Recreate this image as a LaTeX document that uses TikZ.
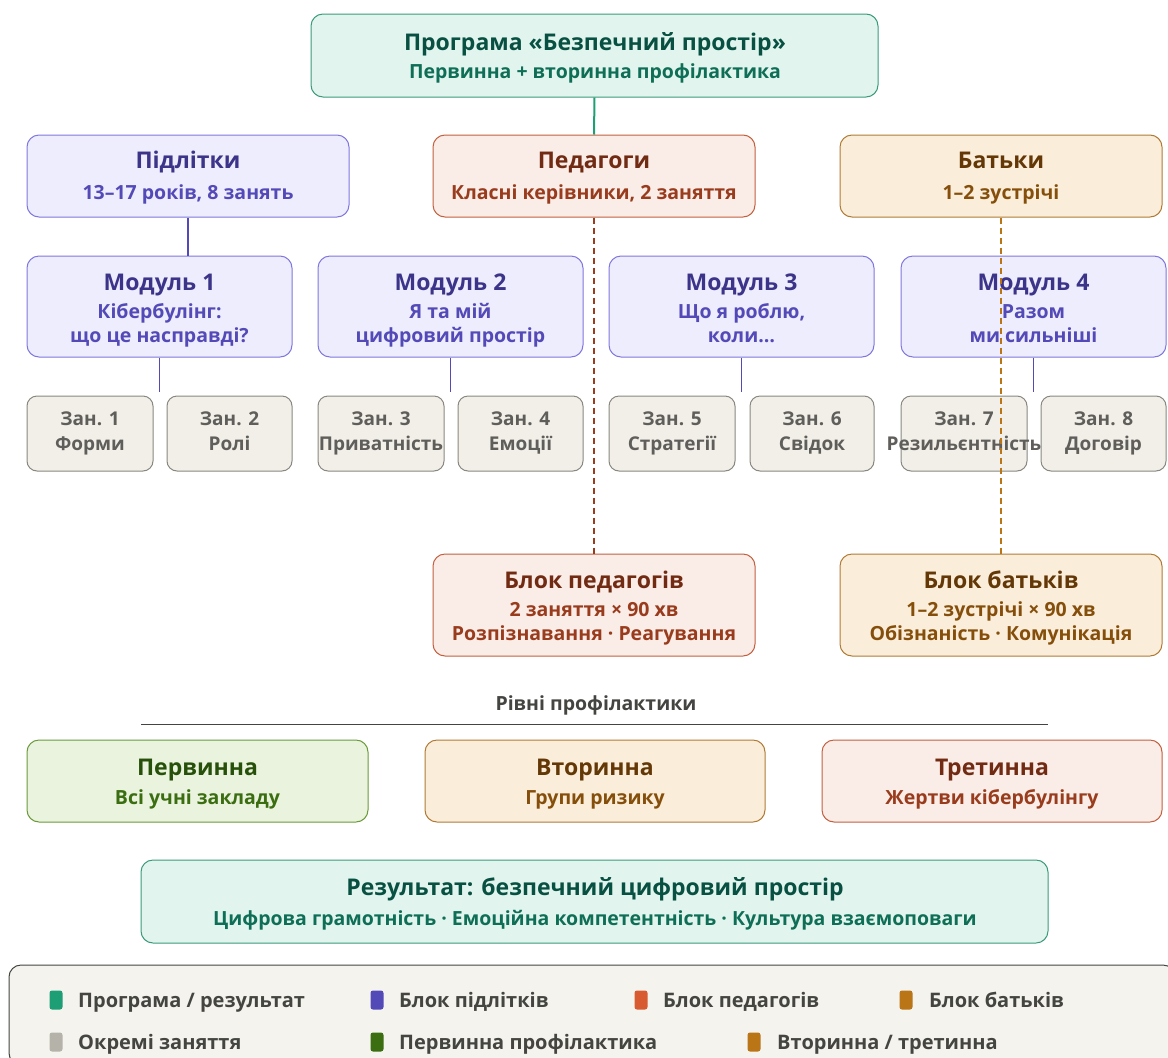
\documentclass[tikz,border=0pt]{standalone}
\usepackage{fontspec}
\setmainfont{Open Sans}
\definecolor{tealF}{HTML}{E1F5EE}\definecolor{tealD}{HTML}{3A9A7A}\definecolor{tealT}{HTML}{085041}\definecolor{tealS}{HTML}{0F6E56}\definecolor{tealL}{HTML}{1D9E75}
\definecolor{purF}{HTML}{EEEDFE}\definecolor{purD}{HTML}{7F77DD}\definecolor{purT}{HTML}{3C3489}\definecolor{purS}{HTML}{534AB7}
\definecolor{corF}{HTML}{FAECE7}\definecolor{corD}{HTML}{C2603F}\definecolor{corT}{HTML}{712B13}\definecolor{corS}{HTML}{993C1D}\definecolor{corL}{HTML}{D85A30}
\definecolor{ambF}{HTML}{FAEEDA}\definecolor{ambD}{HTML}{B07A35}\definecolor{ambT}{HTML}{633806}\definecolor{ambS}{HTML}{854F0B}\definecolor{ambL}{HTML}{BA7517}
\definecolor{grF}{HTML}{F1EFE8}\definecolor{grD}{HTML}{888780}\definecolor{grT}{HTML}{5F5E5A}\definecolor{grL}{HTML}{B4B2A9}
\definecolor{gnF}{HTML}{EAF3DE}\definecolor{gnD}{HTML}{6A9A3A}\definecolor{gnT}{HTML}{27500A}\definecolor{gnS}{HTML}{3B6D11}
\definecolor{legF}{HTML}{F4F3EE}\definecolor{legD}{HTML}{444441}
\begin{document}
\begin{tikzpicture}[x=1pt,y=-1pt,
  bx/.style={draw, line width=1pt, rounded corners=12pt, inner sep=0pt},
  tb/.style={bx, fill=tealF, draw=tealD},
  pb/.style={bx, fill=purF, draw=purD},
  cb/.style={bx, fill=corF, draw=corD},
  ab/.style={bx, fill=ambF, draw=ambD},
  gb/.style={bx, fill=grF, draw=grD, rounded corners=10pt},
  nb/.style={bx, fill=gnF, draw=gnD},
  ttl/.style={font=\bfseries\fontsize{23}{26}\selectfont, inner sep=0pt, text height=16.5pt, text depth=0pt},
  sub/.style={font=\bfseries\fontsize{19.5}{22}\selectfont, inner sep=0pt, text height=14pt, text depth=0pt},
  les/.style={font=\bfseries\fontsize{19}{22}\selectfont, inner sep=0pt, text=grT, text height=13.6pt, text depth=0pt},
  legt/.style={font=\bfseries\fontsize{20}{22}\selectfont, inner sep=0pt, anchor=west, text=legD, text height=14.3pt, text depth=0pt},
  sq/.style={fill=#1, rounded corners=2.5pt, minimum width=13pt, minimum height=19pt, inner sep=0pt, draw=none}
]
\useasboundingbox (0,0) rectangle (1168,1058);
% top
\node[tb, minimum width=567pt, minimum height=83pt] (top) at (594.5,55.5) {};
\node[ttl, text=tealT] (topt) at (595,42) {Програма «Безпечний простір»};
\node[sub, text=tealS] (tops) at (595,71) {Первинна + вторинна профілактика};
% row 2
\node[pb, minimum width=322pt, minimum height=82pt] (teen) at (188,176) {};
\node[ttl, text=purT] (teent) at (188,160) {Підлітки};
\node[sub, text=purS] (teens) at (188,192) {13–17 років, 8 занять};
\node[cb, minimum width=322pt, minimum height=82pt] (ped) at (594,176) {};
\node[ttl, text=corT] (pedt) at (594,160) {Педагоги};
\node[sub, text=corS] (peds) at (594,192) {Класні керівники, 2 заняття};
\node[ab, minimum width=322pt, minimum height=82pt] (par) at (1001,176) {};
\node[ttl, text=ambT] (part) at (1001,160) {Батьки};
\node[sub, text=ambS] (pars) at (1001,192) {1–2 зустрічі};
\draw[tealL, line width=2pt] (top.south) -- (ped.north);
% modules
\foreach \n/\cx/\a/\b in {1/159.5/Кібербулінг:/що це насправді?, 2/450.5/Я та мій/цифровий простір, 3/741.5/{Що я роблю,}/коли…, 4/1033.5/Разом/ми сильніші}{
  \node[pb, minimum width=265pt, minimum height=101pt] (m\n) at (\cx,306.5) {};
  \node[ttl, text=purT] (m\n t) at (\cx,282) {Модуль \n};
  \node[sub, text=purS] (m\n a) at (\cx,311) {\a};
  \node[sub, text=purS] (m\n b) at (\cx,335) {\b};
  \coordinate (m\n e) at ([yshift=-34pt]m\n.south);
  \draw[purS, line width=1.5pt] (m\n.south) -- (m\n e);
}
\draw[purS, line width=1.5pt] (teen.south) -- (teen.south |- m1.north);
% lessons
\foreach \n/\cx/\w/\t in {1/90/126/Форми, 2/229.5/125/Ролі, 3/381/126/Приватність, 4/520.5/125/Емоції, 5/672/126/Стратегії, 6/812/124/Свідок, 7/964/126/Резильєнтність, 8/1103.5/125/Договір}{
  \node[gb, minimum width=\w pt, minimum height=75pt] (l\n) at (\cx,433.5) {};
  \node[les] (l\n a) at (\cx,419) {Зан. \n};
  \node[les] (l\n b) at (\cx,444) {\t};
}
% blocks
\node[cb, minimum width=322pt, minimum height=102pt] (pblk) at (594,605) {};
\node[ttl, text=corT] (pblkt) at (594,580) {Блок педагогів};
\node[sub, text=corS] (pblka) at (594,609) {2 заняття × 90 хв};
\node[sub, text=corS] (pblkb) at (594,633) {Розпізнавання · Реагування};
\node[ab, minimum width=322pt, minimum height=102pt] (ablk) at (1001,605) {};
\node[ttl, text=ambT] (ablkt) at (1001,580) {Блок батьків};
\node[sub, text=ambS] (ablka) at (1001,609) {1–2 зустрічі × 90 хв};
\node[sub, text=ambS] (ablkb) at (1001,633) {Обізнаність · Комунікація};
\draw[corS, line width=1.2pt, dash pattern=on 6pt off 4pt] (ped.south) -- (pblk.north);
\draw[ambL, line width=1.2pt, dash pattern=on 6pt off 4pt] (par.south) -- (ablk.north);
% levels
\node[sub, text=legD] (lvl) at (596,703) {Рівні профілактики};
\coordinate (lvlA) at (141,724); \coordinate (lvlB) at (1048,724);
\draw[legD, line width=1pt] (lvlA) -- (lvlB);
\node[nb, minimum width=341pt, minimum height=82pt] (prim) at (197.5,781) {};
\node[ttl, text=gnT] (primt) at (197.5,767) {Первинна};
\node[sub, text=gnS] (prims) at (197.5,797) {Всі учні закладу};
\node[ab, minimum width=340pt, minimum height=82pt] (sec) at (595,781) {};
\node[ttl, text=ambT] (sect) at (595,767) {Вторинна};
\node[sub, text=ambS] (secs) at (595,797) {Групи ризику};
\node[cb, minimum width=340pt, minimum height=82pt] (ter) at (992,781) {};
\node[ttl, text=corT] (tert) at (992,767) {Третинна};
\node[sub, text=corS] (ters) at (992,797) {Жертви кібербулінгу};
% result
\node[tb, minimum width=907pt, minimum height=83pt] (res) at (594.5,901.5) {};
\node[ttl, text=tealT] (rest) at (595,887) {Результат: безпечний цифровий простір};
\node[sub, text=tealS] (ress) at (595,918) {Цифрова грамотність · Емоційна компетентність · Культура взаємоповаги};
% legend
\node[bx, fill=legF, draw=legD, minimum width=1166pt, minimum height=100pt] (leg) at (592,1015) {};
\node[sq=tealL] (k1) at (56,1000) {}; \node[legt] (k1t) at (78,1000) {Програма / результат};
\node[sq=purS] (k2) at (377,1000) {}; \node[legt] (k2t) at (399,1000) {Блок підлітків};
\node[sq=corL] (k3) at (641,1000) {}; \node[legt] (k3t) at (663,1000) {Блок педагогів};
\node[sq=ambL] (k4) at (906,1000) {}; \node[legt] (k4t) at (929,1000) {Блок батьків};
\node[sq=grL] (k5) at (56,1042) {}; \node[legt] (k5t) at (78,1042) {Окремі заняття};
\node[sq=gnS] (k6) at (377,1042) {}; \node[legt] (k6t) at (399,1042) {Первинна профілактика};
\node[sq=ambL] (k7) at (754,1042) {}; \node[legt] (k7t) at (777,1042) {Вторинна / третинна};
\end{tikzpicture}
\end{document}
